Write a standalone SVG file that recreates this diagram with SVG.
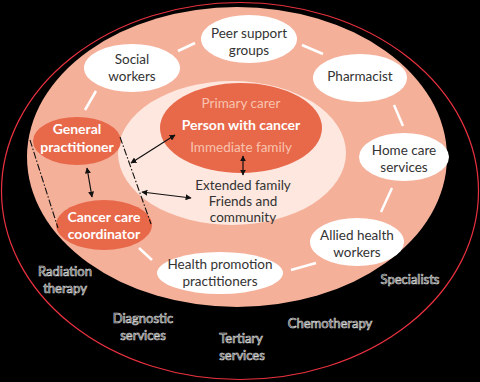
<svg xmlns="http://www.w3.org/2000/svg" width="480" height="382" viewBox="0 0 480 382">
<defs>
<style>
.t{font-family:Lato,"Open Sans",sans-serif;font-size:13.5px;text-anchor:middle}
.dk{fill:#333}
.wb{fill:#fff;font-weight:bold;font-size:14px}
.pk{fill:#f8c3ae}
.ol{fill:#000;stroke:#d8d8d8;stroke-width:0.7px;font-size:13px}
.wl{stroke:#fff;stroke-width:2.5}
.ar{stroke:#111;stroke-width:1.2;fill:none;marker-start:url(#ah);marker-end:url(#ah)}
.dd{stroke:#111;stroke-width:1.1;fill:none;stroke-dasharray:7 2 1.5 2}
</style>
<marker id="ah" viewBox="0 0 10 10" refX="9" refY="5" markerWidth="6" markerHeight="6" orient="auto-start-reverse" markerUnits="userSpaceOnUse">
<path d="M0,0 L10,5 L0,10 z" fill="#111"/>
</marker>
</defs>
<rect width="480" height="382" fill="#000"/>
<ellipse cx="240" cy="191" rx="238.5" ry="188.5" fill="none" stroke="#e8313f" stroke-width="1.2"/>
<ellipse cx="237" cy="157" rx="210" ry="150" fill="#f5b09a"/>
<ellipse cx="232" cy="153" rx="114" ry="72" fill="#fde7de"/>
<g id="person">
<ellipse cx="241" cy="128" rx="81" ry="45" fill="#e8684a"/>
<text class="t pk" x="241" y="108">Primary carer</text>
<text class="t wb" x="241" y="130">Person with cancer</text>
<text class="t pk" x="241" y="152">Immediate family</text>
</g>
<g id="extended">
<text class="t dk" x="243" y="190">Extended family</text>
<text class="t dk" x="243" y="206">Friends and</text>
<text class="t dk" x="243" y="222">community</text>
</g>
<g id="gp">
<ellipse cx="77" cy="141" rx="44" ry="24" fill="#e8684a"/>
<text class="t wb" x="77" y="134">General</text>
<text class="t wb" x="77" y="152">practitioner</text>
</g>
<g id="ccc">
<ellipse cx="104" cy="225" rx="48" ry="25" fill="#e8684a"/>
<text class="t wb" x="104" y="222">Cancer care</text>
<text class="t wb" x="104" y="239">coordinator</text>
</g>
<g id="social">
<ellipse cx="132" cy="68" rx="48" ry="24" fill="#fff"/>
<text class="t dk" x="132" y="64">Social</text>
<text class="t dk" x="132" y="81">workers</text>
</g>
<g id="peer">
<ellipse cx="249" cy="39" rx="48" ry="24" fill="#fff"/>
<text class="t dk" x="249" y="38">Peer support</text>
<text class="t dk" x="249" y="55">groups</text>
</g>
<g id="pharmacist">
<ellipse cx="360" cy="78" rx="47" ry="24" fill="#fff"/>
<text class="t dk" x="360" y="81">Pharmacist</text>
</g>
<g id="homecare">
<ellipse cx="404" cy="157" rx="45" ry="24" fill="#fff"/>
<text class="t dk" x="404" y="155">Home care</text>
<text class="t dk" x="404" y="172">services</text>
</g>
<g id="allied">
<ellipse cx="357" cy="242" rx="47" ry="24" fill="#fff"/>
<text class="t dk" x="357" y="240">Allied health</text>
<text class="t dk" x="357" y="257">workers</text>
</g>
<g id="healthpromo">
<ellipse cx="220" cy="273" rx="63" ry="21" fill="#fff"/>
<text class="t dk" x="220" y="269">Health promotion</text>
<text class="t dk" x="220" y="286">practitioners</text>
</g>
<g id="outer">
<text class="t ol" x="65" y="276">Radiation</text>
<text class="t ol" x="65" y="293">therapy</text>
<text class="t ol" x="143" y="323">Diagnostic</text>
<text class="t ol" x="143" y="340">services</text>
<text class="t ol" x="241" y="343">Tertiary</text>
<text class="t ol" x="242" y="360">services</text>
<text class="t ol" x="330" y="328">Chemotherapy</text>
<text class="t ol" x="410" y="284">Specialists</text>
</g>
<g id="connectors">
<line class="wl" x1="85" y1="110" x2="96" y2="91"/>
<line class="wl" x1="178" y1="51" x2="195" y2="43"/>
<line class="wl" x1="302" y1="45" x2="323" y2="54"/>
<line class="wl" x1="394" y1="105" x2="403" y2="126"/>
<line class="wl" x1="381" y1="212" x2="392" y2="188"/>
<line class="wl" x1="291" y1="270" x2="316" y2="263"/>
<line class="wl" x1="139" y1="248" x2="152" y2="260"/>
<line class="dd" x1="30" y1="140" x2="58" y2="228"/>
<line class="dd" x1="120" y1="137" x2="151" y2="224"/>
<line class="ar" x1="87" y1="168" x2="92" y2="197"/>
<line class="ar" x1="131" y1="163" x2="175" y2="135"/>
<line class="ar" x1="142" y1="192" x2="191" y2="198"/>
<line class="ar" x1="243" y1="156" x2="243" y2="175"/>
</g>
</svg>
